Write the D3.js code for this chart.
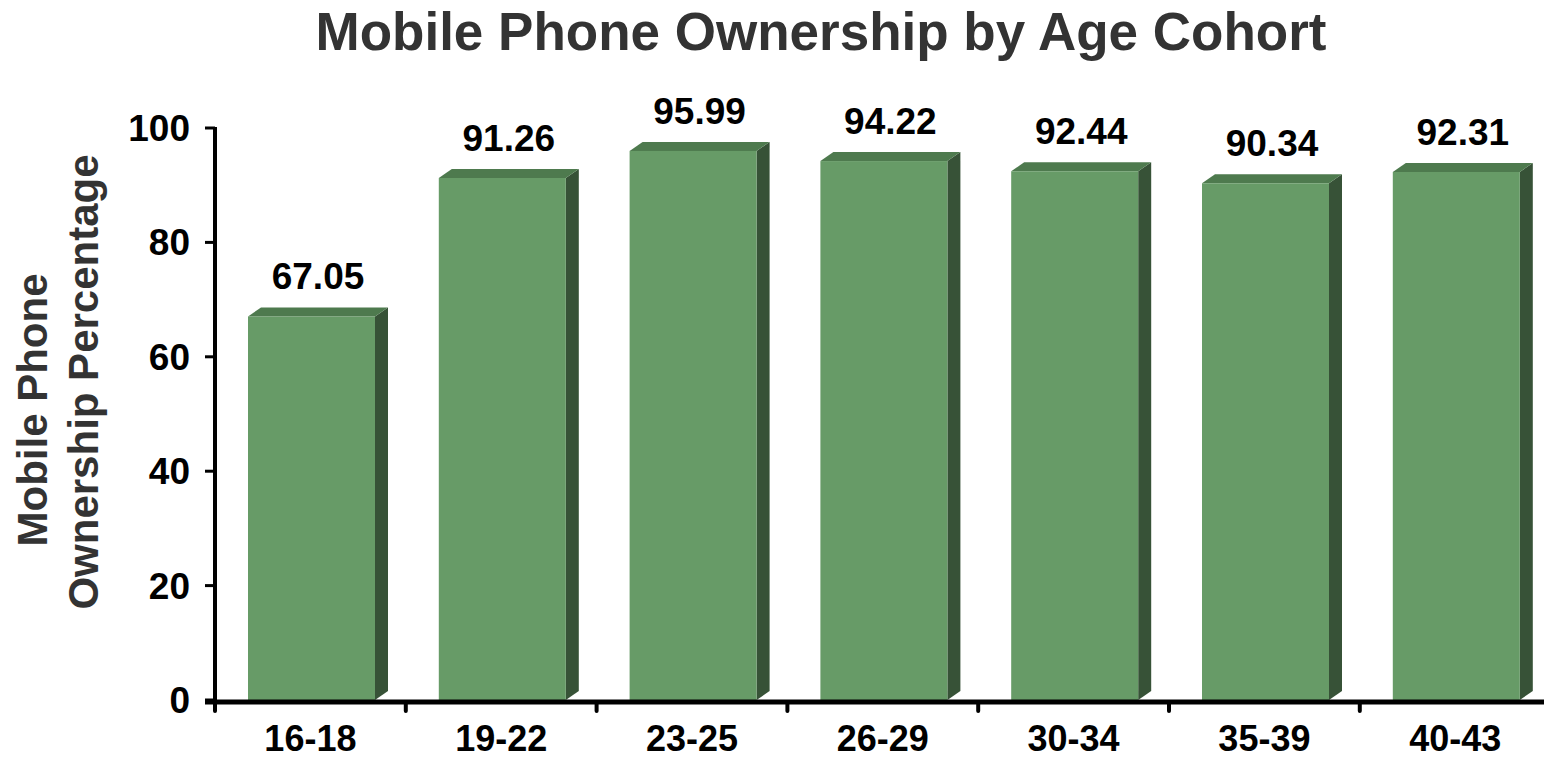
<!DOCTYPE html>
<html><head><meta charset="utf-8">
<script src="https://cdn.jsdelivr.net/npm/d3@7"></script>
<style>body{margin:0;background:#fff;}svg{display:block;font-family:"Liberation Sans",Arial,sans-serif;}</style>
</head><body>
<svg id="c" width="1544" height="759"></svg>
<script>
const categories = ["16-18","19-22","23-25","26-29","30-34","35-39","40-43"];
const values = [67.05,91.26,95.99,94.22,92.44,90.34,92.31];
const yTicks = [0,20,40,60,80,100];

const svg = d3.select("#c");
const x0 = 215, y0 = 700, yTop = 128;
const band = 190.8;
const x = d3.scaleBand().domain(categories).range([x0, x0 + band*categories.length]).paddingInner(0).paddingOuter(0);
const y = d3.scaleLinear().domain([0,100]).range([y0, yTop]);
const dx = 13, dy = 9;
const barOff = 33, barW = 127;

// title
svg.append("text").attr("x", 821).attr("y", 50).attr("text-anchor","middle")
  .attr("font-size", 53).attr("font-weight","bold").attr("fill","#333")
  .text("Mobile Phone Ownership by Age Cohort");

// y axis title
svg.append("text").attr("transform","translate(47,410) rotate(-90)")
  .attr("text-anchor","middle").attr("font-size",42).attr("font-weight","bold").attr("fill","#333")
  .text("Mobile Phone");
svg.append("text").attr("transform","translate(98,382) rotate(-90)")
  .attr("text-anchor","middle").attr("font-size",42).attr("font-weight","bold").attr("fill","#333")
  .text("Ownership Percentage");

// bars
const g = svg.append("g");
categories.forEach((c,i) => {
  const v = values[i];
  const xl = x(c) + barOff, xr = xl + barW, yt2 = y(v), yb = y(0);
  g.append("path").attr("d", `M${xr},${yt2} L${xr+dx},${yt2-dy} L${xr+dx},${yb-dy} L${xr},${yb} Z`).attr("fill","#375237");
  g.append("path").attr("d", `M${xl},${yt2} L${xl+dx},${yt2-dy} L${xr+dx},${yt2-dy} L${xr},${yt2} Z`).attr("fill","#4e7a4e");
  g.append("rect").attr("x", xl).attr("y", yt2).attr("width", barW).attr("height", yb-yt2).attr("fill","#679b67");
  svg.append("text").attr("x", (xl + xr + dx)/2).attr("y", yt2 - 27).attr("text-anchor","middle")
    .attr("font-size",37).attr("font-weight","bold").attr("fill","#000").text(v.toFixed(2));
});

// y axis
const ya = svg.append("g");
ya.append("line").attr("x1",x0).attr("x2",x0).attr("y1",y(100)-1).attr("y2",y0+2).attr("stroke","#000").attr("stroke-width",4);
yTicks.forEach(t => {
  ya.append("line").attr("x1",x0-10).attr("x2",x0).attr("y1",y(t)).attr("y2",y(t)).attr("stroke","#000").attr("stroke-width",3);
  ya.append("text").attr("x",190).attr("y",y(t)+13).attr("text-anchor","end").attr("font-size",37).attr("font-weight","bold").attr("fill","#000").text(t);
});

// x axis
const xa = svg.append("g");
xa.append("line").attr("x1",x0-10).attr("x2",1544).attr("y1",y0+2).attr("y2",y0+2).attr("stroke","#000").attr("stroke-width",5);
categories.forEach((c,i) => {
  const tx = x(c);
  xa.append("line").attr("x1",tx).attr("x2",tx).attr("y1",y0+2).attr("y2",y0+11).attr("stroke","#000").attr("stroke-width",4).attr("stroke-linecap","round");
  xa.append("text").attr("x", tx + band/2).attr("y", 751).attr("text-anchor","middle").attr("font-size",36).attr("font-weight","bold").attr("fill","#000").text(c);
});
</script>
</body></html>
